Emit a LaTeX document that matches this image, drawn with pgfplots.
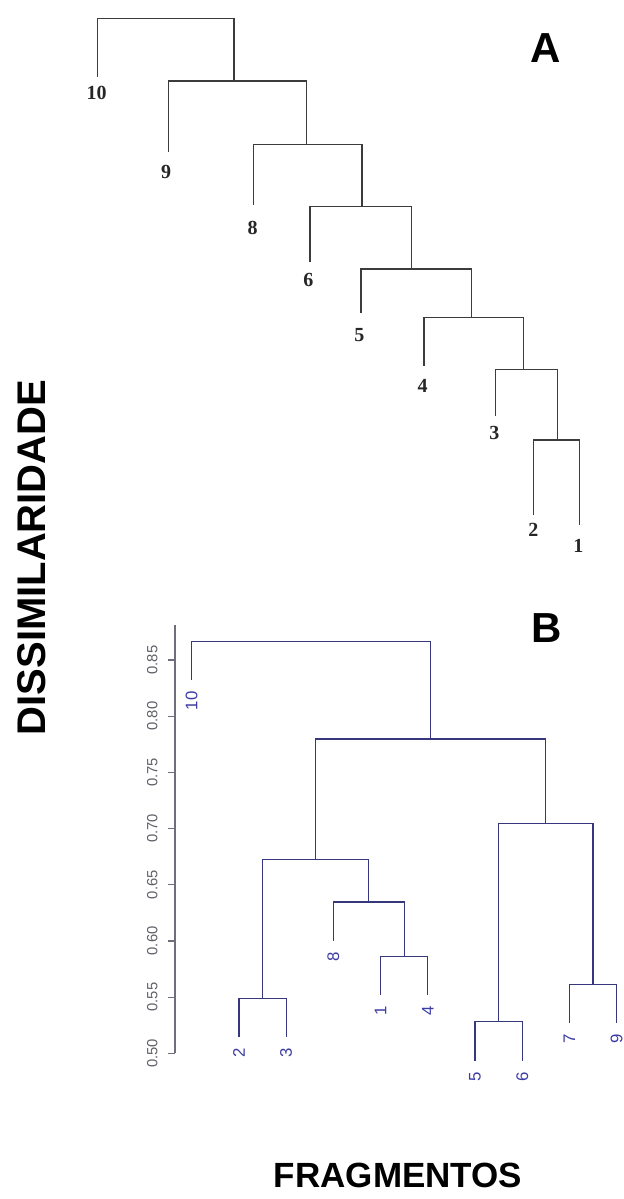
\documentclass[border=0pt]{standalone}
\usepackage{pgfplots}
\pgfplotsset{compat=1.18}
\usepackage{fontspec}
\setmainfont{Liberation Sans}
\newfontfamily\serifA{Liberation Serif}
\definecolor{dendA}{RGB}{60,60,60}
\definecolor{dendB}{RGB}{55,55,125}
\definecolor{labB}{RGB}{60,60,165}
\definecolor{axB}{RGB}{110,110,125}
\definecolor{tickB}{RGB}{95,95,105}
\begin{document}
\begin{tikzpicture}
% ---------- Panel A (pixel frame) ----------
\begin{axis}[name=pix, at={(0,0)}, anchor=north west, scale only axis,
  width=311.5pt, height=599.5pt, xmin=0, xmax=623, ymin=0, ymax=1199,
  y dir=reverse, hide axis, clip=false]
\addplot[dendA, line width=0.75pt] coordinates {(97.7,76.7) (97.7,18.3) (234,18.3) (234,81)};
\addplot[dendA, line width=0.75pt] coordinates {(168.3,151.7) (168.3,81) (306.7,81) (306.7,144.3)};
\addplot[dendA, line width=0.75pt] coordinates {(253.3,205) (253.3,144.3) (362,144.3) (362,206.3)};
\addplot[dendA, line width=0.75pt] coordinates {(310,261.7) (310,206.3) (411.7,206.3) (411.7,269)};
\addplot[dendA, line width=0.75pt] coordinates {(361,313.3) (361,269) (471.7,269) (471.7,317.7)};
\addplot[dendA, line width=0.75pt] coordinates {(424,366) (424,317.7) (523.3,317.7) (523.3,369.3)};
\addplot[dendA, line width=0.75pt] coordinates {(495.7,416) (495.7,369.3) (557.7,369.3) (557.7,440)};
\addplot[dendA, line width=0.75pt] coordinates {(533.3,515) (533.3,440) (579.3,440) (579.3,525)};
\begin{scope}[every node/.style={font=\serifA\bfseries\fontsize{10}{12}\selectfont, text=black!85}]
\node at (axis cs:96.7,92.7) {10};
\node at (axis cs:166,171.7) {9};
\node at (axis cs:252.7,228.3) {8};
\node at (axis cs:308.3,280) {6};
\node at (axis cs:359.3,335) {5};
\node at (axis cs:422.7,386) {4};
\node at (axis cs:494.3,433.3) {3};
\node at (axis cs:533.3,530) {2};
\node at (axis cs:578.3,546) {1};
\end{scope}
\node[font=\bfseries\fontsize{20}{24}\selectfont, rotate=90] at (axis cs:31.5,557.5) {DISSIMILARIDADE};
\node[font=\bfseries\fontsize{17.5}{21}\selectfont] at (axis cs:398,1175.5) {FRAGMENTOS};
\node[font=\bfseries\fontsize{21}{25}\selectfont] at (axis cs:545.5,48) {A};
\node[font=\bfseries\fontsize{21}{25}\selectfont] at (axis cs:547,628) {B};
\end{axis}
% ---------- Panel B ----------
\begin{axis}[at={(87.5pt,-526.65pt)}, anchor=south west, scale only axis,
  width=224pt, height=214.1pt, xmin=0.646, xmax=10.134, ymin=0.50, ymax=0.881,
  axis y line*=left, axis x line=none, clip=false,
  y axis line style={axB, line width=0.6pt},
  ytick={0.50,0.55,0.60,0.65,0.70,0.75,0.80,0.85},
  tick align=outside, major tick length=3.65pt,
  ytick style={axB, line width=0.6pt},
  yticklabel shift=1.5pt,
  yticklabel style={rotate=90, anchor=south, text=tickB, font=\fontsize{7.4}{9}\selectfont,
    /pgf/number format/.cd, fixed, fixed zerofill, precision=2, assume math mode=true}]
\addplot[dendB, line width=0.6pt] coordinates {(1,0.832) (1,0.8665) (6.0625,0.8665) (6.0625,0.7796)};
\addplot[dendB, line width=0.6pt] coordinates {(3.625,0.6727) (3.625,0.7796) (8.5,0.7796) (8.5,0.7047)};
\addplot[dendB, line width=0.6pt] coordinates {(2.5,0.549) (2.5,0.6727) (4.75,0.6727) (4.75,0.6347)};
\addplot[dendB, line width=0.6pt] coordinates {(2,0.5148) (2,0.549) (3,0.549) (3,0.5148)};
\addplot[dendB, line width=0.6pt] coordinates {(4,0.600) (4,0.6347) (5.5,0.6347) (5.5,0.5858)};
\addplot[dendB, line width=0.6pt] coordinates {(5,0.552) (5,0.5858) (6,0.5858) (6,0.552)};
\addplot[dendB, line width=0.6pt] coordinates {(7.5,0.528) (7.5,0.7047) (9.5,0.7047) (9.5,0.5614)};
\addplot[dendB, line width=0.6pt] coordinates {(7,0.4934) (7,0.528) (8,0.528) (8,0.4934)};
\addplot[dendB, line width=0.6pt] coordinates {(9,0.527) (9,0.5614) (10,0.5614) (10,0.527)};
\begin{scope}[every node/.style={rotate=90, anchor=east, inner xsep=5.5pt, inner ysep=0pt, text=labB, font=\fontsize{8.4}{10}\selectfont}]
\node at (axis cs:1,0.832) {10};
\node at (axis cs:2,0.5148) {2};
\node at (axis cs:3,0.5148) {3};
\node at (axis cs:4,0.600) {8};
\node at (axis cs:5,0.552) {1};
\node at (axis cs:6,0.552) {4};
\node at (axis cs:7,0.4934) {5};
\node at (axis cs:8,0.4934) {6};
\node at (axis cs:9,0.527) {7};
\node at (axis cs:10,0.527) {9};
\end{scope}
\end{axis}
\pgfresetboundingbox
\path[use as bounding box] (0,0) rectangle (311.5pt,-599.5pt);
\end{tikzpicture}
\end{document}
